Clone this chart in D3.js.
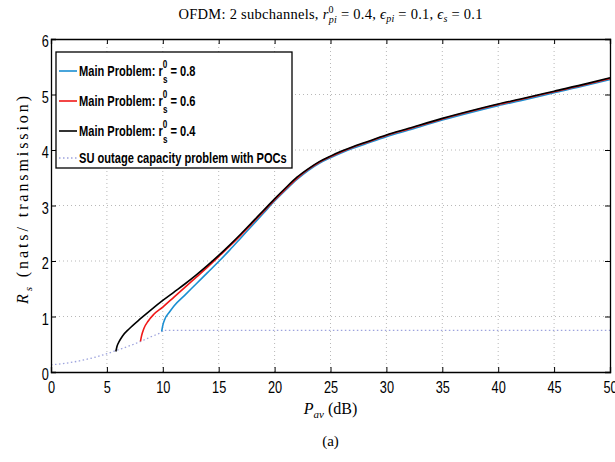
<!DOCTYPE html>
<html>
<head>
<meta charset="utf-8">
<script src="https://cdn.jsdelivr.net/npm/d3@7"></script>
<style>
  body { margin: 0; background: #fff; }
  #chart { width: 615px; height: 462px; }
  text { fill: #000; }
</style>
</head>
<body>
<div id="chart"></div>
<script>
// x values (P_av in dB) and Rs values
const pavBlue = [9.9, 10.0, 10.2, 10.6, 11, 12, 13, 14, 15, 16, 17, 18, 19, 20, 21, 22, 23, 24, 25, 26, 27, 28, 30, 32, 35, 38, 40, 42, 45, 48, 50];
const rsBlue = [0.73, 0.84, 0.96, 1.08, 1.19, 1.39, 1.59, 1.79, 1.99, 2.2, 2.42, 2.64, 2.86, 3.08, 3.28, 3.47, 3.63, 3.76, 3.86, 3.95, 4.03, 4.1, 4.24, 4.36, 4.54, 4.7, 4.8, 4.89, 5.03, 5.17, 5.27];

const pavRed = [8.0, 8.1, 8.3, 8.7, 9.2, 10, 11, 12, 13, 14, 15, 16, 17, 18, 19, 20, 21, 22, 23, 24, 25, 26, 27, 28, 30, 32, 35, 38, 40, 42, 45, 48, 50];
const rsRed = [0.55, 0.65, 0.78, 0.92, 1.04, 1.17, 1.35, 1.53, 1.71, 1.89, 2.08, 2.27, 2.47, 2.68, 2.89, 3.1, 3.3, 3.49, 3.65, 3.78, 3.88, 3.97, 4.05, 4.12, 4.26, 4.38, 4.56, 4.72, 4.82, 4.91, 5.05, 5.19, 5.29];

const pavBlack = [5.8, 5.9, 6.1, 6.4, 7, 8, 9, 10, 11, 12, 13, 14, 15, 16, 17, 18, 19, 20, 21, 22, 23, 24, 25, 26, 27, 28, 30, 32, 35, 38, 40, 42, 45, 48, 50];
const rsBlack = [0.37, 0.46, 0.55, 0.65, 0.78, 0.96, 1.13, 1.29, 1.44, 1.59, 1.75, 1.92, 2.1, 2.29, 2.49, 2.7, 2.91, 3.12, 3.32, 3.51, 3.66, 3.79, 3.89, 3.98, 4.06, 4.13, 4.27, 4.39, 4.57, 4.73, 4.83, 4.92, 5.06, 5.2, 5.3];

const pavPoc = [0, 1, 2, 3, 4, 5, 6, 7, 8, 9, 9.9, 10, 20, 30, 40, 50];
const rsPoc = [0.13, 0.15, 0.18, 0.22, 0.27, 0.33, 0.4, 0.47, 0.55, 0.64, 0.73, 0.75, 0.75, 0.75, 0.75, 0.75];

const xTicks = [0, 5, 10, 15, 20, 25, 30, 35, 40, 45, 50];
const yTicks = [0, 1, 2, 3, 4, 5, 6];

const seriesNames = ['0.8', '0.6', '0.4'];
const seriesColors = ['#1b8fd2', '#f01818', '#000000'];
const pocColor = '#9da3dd';

window.RsChart = {
    create() {
        const svg = d3.select('#chart').append('svg')
            .attr('width', 615)
            .attr('height', 462);

        const margin = { top: 39, right: 5, bottom: 90, left: 51 };
        const width = 615 - margin.left - margin.right;
        const height = 462 - margin.top - margin.bottom;

        const g = svg.append('g')
            .attr('transform', `translate(${margin.left},${margin.top})`);

        const xScale = d3.scaleLinear().domain([0, 50]).range([0, width]);
        const yScale = d3.scaleLinear().domain([0, 6]).range([height, 0]);
        const scales = { xScale, yScale };

        RsChart.createGrid(g, scales, width, height);
        RsChart.createLines(g, scales);
        RsChart.createAxes(g, scales, width, height);
        RsChart.createLegend(g);
        RsChart.createTexts(svg, margin, width, height);
    },

    createGrid(g, scales, width, height) {
        g.append('g')
            .selectAll('line')
            .data(xTicks.slice(1, -1))
            .join('line')
            .attr('x1', d => scales.xScale(d)).attr('x2', d => scales.xScale(d))
            .attr('y1', 0).attr('y2', height)
            .attr('stroke', '#b8b8b8')
            .attr('stroke-dasharray', '1,3');

        g.append('g')
            .selectAll('line')
            .data(yTicks.slice(1, -1))
            .join('line')
            .attr('y1', d => scales.yScale(d)).attr('y2', d => scales.yScale(d))
            .attr('x1', 0).attr('x2', width)
            .attr('stroke', '#b8b8b8')
            .attr('stroke-dasharray', '1,3');
    },

    createLines(g, scales) {
        const line = d3.line()
            .x(d => scales.xScale(d[0]))
            .y(d => scales.yScale(d[1]))
            .curve(d3.curveMonotoneX);

        g.append('path')
            .datum(d3.zip(pavPoc, rsPoc))
            .attr('fill', 'none')
            .attr('stroke', pocColor)
            .attr('stroke-width', 1.3)
            .attr('stroke-dasharray', '1.5,2.5')
            .attr('d', line);

        const curves = [d3.zip(pavBlue, rsBlue), d3.zip(pavRed, rsRed), d3.zip(pavBlack, rsBlack)];
        curves.forEach((data, i) => {
            g.append('path')
                .datum(data)
                .attr('fill', 'none')
                .attr('stroke', seriesColors[i])
                .attr('stroke-width', 1.6)
                .attr('d', line);
        });
    },

    createAxes(g, scales, width, height) {
        const fontFamily = '"Liberation Sans", Arial, sans-serif';

        const xAxis = g.append('g')
            .attr('transform', `translate(0,${height})`)
            .call(d3.axisBottom(scales.xScale).tickValues(xTicks).tickSize(-5).tickPadding(0).tickFormat(d3.format('d')));
        xAxis.selectAll('text')
            .attr('y', 9)
            .attr('transform', 'scale(0.75,1)')
            .style('font-family', fontFamily)
            .style('font-size', '17px');

        const yAxis = g.append('g')
            .call(d3.axisLeft(scales.yScale).tickValues(yTicks).tickSize(-5).tickPadding(0).tickFormat(d3.format('d')));
        yAxis.selectAll('text')
            .attr('x', -3)
            .attr('dy', '0.45em')
            .attr('transform', 'scale(0.75,1)')
            .style('font-family', fontFamily)
            .style('font-size', '17px');

        g.append('g')
            .call(d3.axisTop(scales.xScale).tickValues(xTicks).tickSize(-5).tickFormat(''));
        g.append('g')
            .attr('transform', `translate(${width},0)`)
            .call(d3.axisRight(scales.yScale).tickValues(yTicks).tickSize(-5).tickFormat(''));

        g.selectAll('.domain').attr('stroke', '#000').attr('stroke-width', 1.3);
        g.selectAll('.tick line').attr('stroke', '#000');
    },

    createLegend(g) {
        const legend = g.append('g')
            .attr('transform', 'translate(5, 13)');

        legend.append('rect')
            .attr('width', 236)
            .attr('height', 116)
            .attr('fill', '#fff')
            .attr('stroke', '#000')
            .attr('stroke-width', 1.3);

        const rowY = [19, 49, 79, 106];
        const fontFamily = '"Liberation Sans", Arial, sans-serif';

        seriesNames.forEach((name, i) => {
            const row = legend.append('g').attr('transform', `translate(0,${rowY[i]})`);
            row.append('line')
                .attr('x1', 3).attr('x2', 21)
                .attr('stroke', seriesColors[i])
                .attr('stroke-width', 1.6);
            const t = row.append('text')
                .attr('transform', 'translate(23,5) scale(0.74,1)')
                .style('font-family', fontFamily)
                .style('font-weight', 'bold')
                .style('font-size', '15px');
            t.append('tspan').text('Main Problem: r');
            t.append('tspan').attr('dy', -8).style('font-size', '11px').text('0');
            t.append('tspan').attr('dx', -6).attr('dy', 15).style('font-size', '11px').text('s');
            t.append('tspan').attr('dy', -7).text(' = ' + name);
        });

        const row = legend.append('g').attr('transform', `translate(0,${rowY[3]})`);
        row.append('line')
            .attr('x1', 3).attr('x2', 21)
            .attr('stroke', pocColor)
            .attr('stroke-width', 1.3)
            .attr('stroke-dasharray', '1.5,2.5');
        row.append('text')
            .attr('transform', 'translate(23,5) scale(0.74,1)')
            .style('font-family', fontFamily)
            .style('font-weight', 'bold')
            .style('font-size', '15px')
            .text('SU outage capacity problem with POCs');
    },

    createTexts(svg, margin, width, height) {
        const serif = '"Liberation Serif", "DejaVu Serif", serif';
        const cx = margin.left + width / 2;

        const title = svg.append('text')
            .attr('x', cx)
            .attr('y', 19)
            .attr('textLength', 304)
            .attr('lengthAdjust', 'spacing')
            .style('text-anchor', 'middle')
            .style('font-family', serif)
            .style('font-size', '14.5px');
        title.append('tspan').text('OFDM: 2 subchannels, ');
        title.append('tspan').style('font-style', 'italic').text('r');
        title.append('tspan').attr('dy', -6).style('font-size', '10px').text('0');
        title.append('tspan').attr('dx', -5).attr('dy', 10).style('font-size', '10px').style('font-style', 'italic').text('pi');
        title.append('tspan').attr('dy', -4).text(' = 0.4, ');
        title.append('tspan').style('font-style', 'italic').text('ϵ');
        title.append('tspan').attr('dy', 3).style('font-size', '10px').style('font-style', 'italic').text('pi');
        title.append('tspan').attr('dy', -3).text(' = 0.1, ');
        title.append('tspan').style('font-style', 'italic').text('ϵ');
        title.append('tspan').attr('dy', 3).style('font-size', '10px').style('font-style', 'italic').text('s');
        title.append('tspan').attr('dy', -3).text(' = 0.1');

        const xl = svg.append('text')
            .attr('x', cx)
            .attr('y', margin.top + height + 42)
            .style('text-anchor', 'middle')
            .style('font-family', serif)
            .style('font-size', '16px');
        xl.append('tspan').style('font-style', 'italic').text('P');
        xl.append('tspan').attr('dy', 4).style('font-size', '11px').style('font-style', 'italic').text('av');
        xl.append('tspan').attr('dy', -4).text(' (dB)');

        const yl = svg.append('text')
            .attr('transform', `translate(28,200) rotate(-90)`)
            .attr('textLength', 208)
            .attr('lengthAdjust', 'spacing')
            .style('text-anchor', 'middle')
            .style('font-family', serif)
            .style('font-size', '16px');
        yl.append('tspan').style('font-style', 'italic').text('R');
        yl.append('tspan').attr('dy', 4).style('font-size', '11px').style('font-style', 'italic').text('s');
        yl.append('tspan').attr('dy', -4).text('  (nats/ transmission)');

        svg.append('text')
            .attr('x', cx)
            .attr('y', 446)
            .style('text-anchor', 'middle')
            .style('font-family', serif)
            .style('font-size', '15px')
            .text('(a)');
    },
};

RsChart.create();
</script>
</body>
</html>
